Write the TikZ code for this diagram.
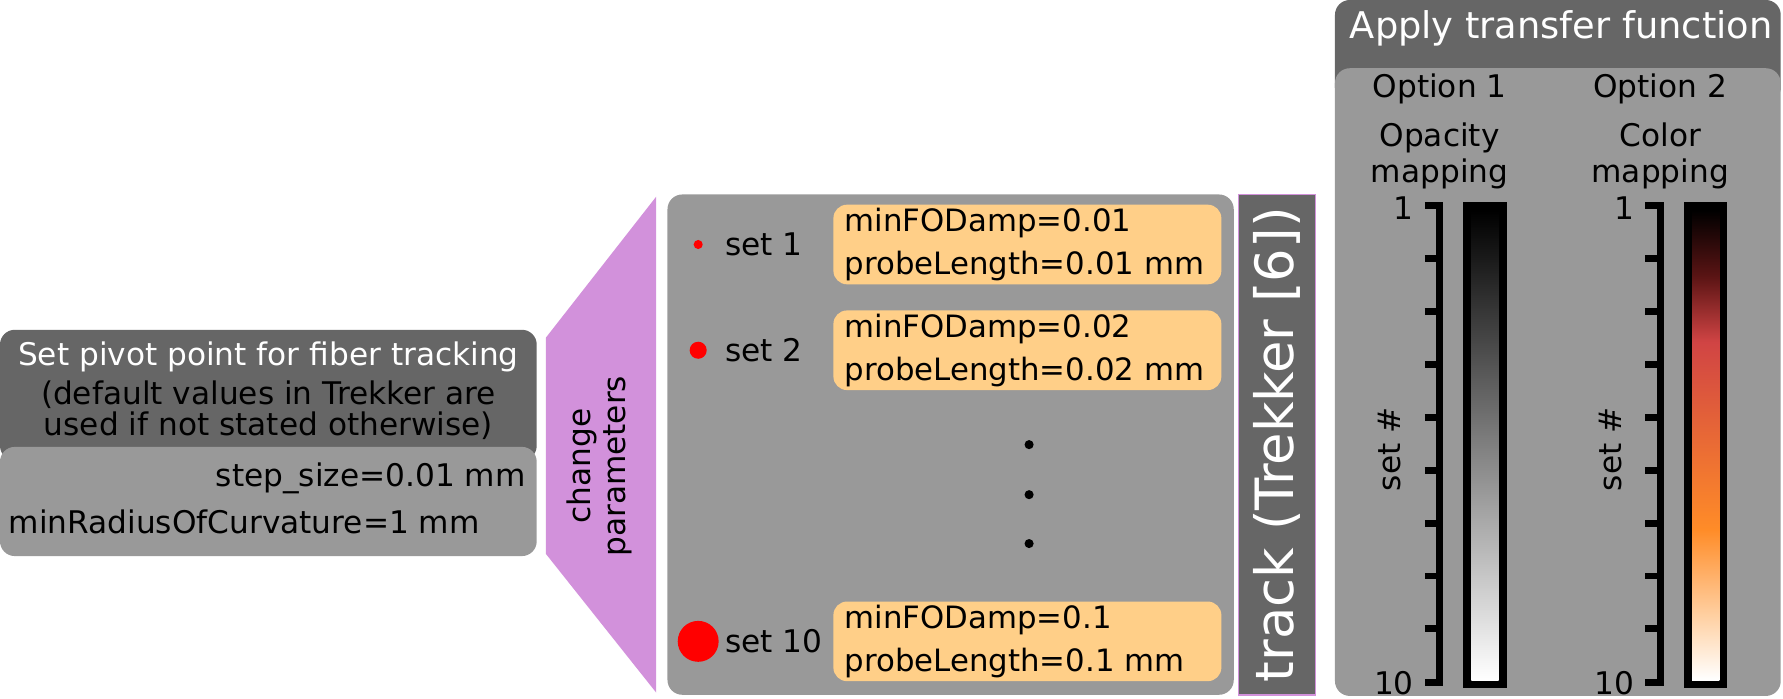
\documentclass[tikz,border=0pt]{standalone}
\usepackage{fontspec}
\setmainfont{DejaVu Sans}
\usetikzlibrary{positioning}

\definecolor{darkpanel}{HTML}{666666}
\definecolor{lightpanel}{HTML}{999999}
\definecolor{paramfill}{HTML}{FFCF88}
\definecolor{changefill}{HTML}{D291DB}
\definecolor{heatdark}{HTML}{5A1414}
\definecolor{heatred}{HTML}{D04444}
\definecolor{heatorange}{HTML}{FF8C28}
\definecolor{heatpeach}{HTML}{FFCFA0}

\pgfdeclareverticalshading{opacitybar}{100bp}{color(0bp)=(white); color(25bp)=(white); color(75bp)=(black); color(100bp)=(black)}
\pgfdeclareverticalshading{heatbar}{100bp}{color(0bp)=(white); color(25bp)=(white); color(32bp)=(heatpeach); color(41bp)=(heatorange); color(61bp)=(heatred); color(68bp)=(heatdark); color(75bp)=(black); color(100bp)=(black)}

\begin{document}
\begin{tikzpicture}[x=0.01cm, y=-0.01cm, inner sep=0pt,
	font=\fontsize{7.8}{7.7}\selectfont,
	panelround/.style={rounded corners=0.13cm},
	parambox/.style={fill=paramfill, rounded corners=0.12cm, minimum height=0.7cm, text width=3.21cm, inner xsep=0.1cm, align=left, font=\fontsize{7.7}{10.8}\selectfont},
	reddot/.style={fill=red},
	axisline/.style={line width=0.06cm}]
	\useasboundingbox (0,0) rectangle (1568,614);

	% pivot point box
	\fill[darkpanel, panelround] (0,290) rectangle (472,405);
	\fill[lightpanel, panelround] (0,393) rectangle (472,489);
	\node (pivot)[text=white] at (236,314) {Set pivot point for fiber tracking};
	\node (defaults)[align=center] at (236,361) {(default values in Trekker are\\used if not stated otherwise)};
	\node (stepsize)[anchor=east] at (463,421) {step\_size=0.01 mm};
	\node (curvature)[anchor=west] at (7,459) {minRadiusOfCurvature=1 mm};

	% change parameters
	\fill[changefill] (480,297) -- (577,173) -- (577,609) -- (480,487) -- cycle;
	\node (change)[rotate=90, align=center, font=\fontsize{7.8}{8.6}\selectfont] at (527,410) {change\\parameters};

	% parameter sets
	\fill[lightpanel, panelround] (587,171) rectangle (1085,611);
	\foreach \y/\r/\n/\amp/\len in {215/4/1/0.01/0.01, 308/7.5/2/0.02/0.02, 564/18/10/0.1/0.1}{
		\fill[reddot] (614,\y) circle (\r);
		\node (set\n)[anchor=west] at (637,\y) {set \n};
		\node (param\n)[parambox] at (903.5,\y) {minFODamp=\amp\\probeLength=\len{} mm};
	}
	\foreach \y in {391,435,478}
		\fill (905,\y) circle (4);

	% tracking
	\node (trackbox)[draw=changefill, fill=darkpanel, minimum width=0.68cm, minimum height=4.4cm] at (1123,391) {};
	\node (track)[rotate=90, text=white, font=\fontsize{13.2}{14}\selectfont] at (trackbox.center) {track (Trekker [6])};

	% transfer function
	\fill[darkpanel, panelround] (1174,0) rectangle (1566,90);
	\fill[lightpanel, panelround] (1174,60) rectangle (1566,612);
	\node (apply)[text=white, font=\fontsize{9.2}{10}\selectfont] at (1373,25) {Apply transfer function};

	\foreach \ax/\opt/\kind/\bar in {1266/1/Opacity/opacitybar, 1460/2/Color/heatbar}{
		\node (option\opt) at (\ax,78) {Option \opt};
		\node (kind\opt)[align=center, font=\fontsize{7.8}{8.8}\selectfont] at (\ax,137) {\kind\\mapping};
		\draw[axisline] (\ax-13,181) -- (\ax,181) -- (\ax,600) -- (\ax-13,600);
		\foreach \k in {1,...,8}
			\draw[axisline] (\ax-13,181+46.5*\k) -- (\ax,181+46.5*\k);
		\node (top\opt)[anchor=east] at (\ax-22,183) {1};
		\node (bottom\opt)[anchor=east] at (\ax-22,601) {10};
		\node (setno\opt)[rotate=90] at (\ax-44,395) {set \#};
		\fill (\ax+21,178) rectangle (\ax+59,605);
		\shade[shading=\bar] (\ax+28,185) rectangle (\ax+52,598);
	}
\end{tikzpicture}
\end{document}
